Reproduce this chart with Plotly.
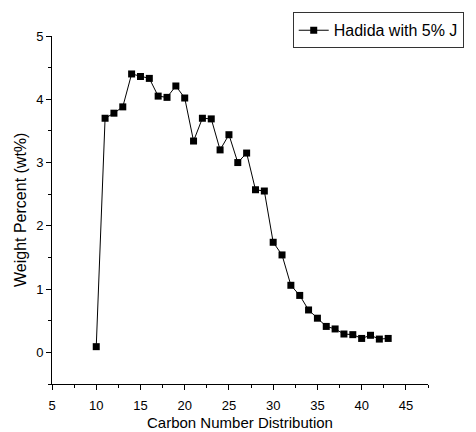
import plotly.graph_objects as go

carbon = list(range(10, 44))
wt = [0.09, 3.70, 3.78, 3.88, 4.40, 4.36, 4.33, 4.05, 4.03, 4.21, 4.02,
      3.34, 3.70, 3.69, 3.20, 3.44, 3.00, 3.15, 2.57, 2.55, 1.74, 1.54,
      1.06, 0.90, 0.67, 0.54, 0.41, 0.37, 0.29, 0.28, 0.22, 0.27, 0.21, 0.22]
series_name = "Hadida with 5% J"
x_title = "Carbon Number Distribution"
y_title = "Weight Percent (wt%)"
x_ticks = [5, 10, 15, 20, 25, 30, 35, 40, 45]
y_ticks = [0, 1, 2, 3, 4, 5]

fig = go.Figure()
fig.add_trace(go.Scatter(
    x=carbon, y=wt, mode="lines+markers", name=series_name,
    line=dict(color="black", width=1),
    marker=dict(symbol="square", size=7, color="black"),
))

axis_common = dict(
    showline=True, linecolor="black", linewidth=1, mirror=False,
    ticks="outside", ticklen=5, tickwidth=1, tickcolor="black",
    showgrid=False, zeroline=False, automargin=False,
    tickfont=dict(family="Arial, Liberation Sans", size=13, color="black"),
)

font = "Arial, Liberation Sans"
fig.update_layout(
    width=476, height=432,
    margin=dict(l=52, r=37, t=30, b=48),
    paper_bgcolor="white", plot_bgcolor="white",
    showlegend=True,
    legend=dict(
        x=1.095, xanchor="right", y=1.068, yanchor="top",
        bordercolor="#333333", borderwidth=1, bgcolor="white",
        font=dict(family=font, size=16, color="black"),
        itemwidth=30, tracegroupgap=0,
    ),
    xaxis=dict(
        range=[5, 47.5], tickvals=x_ticks, ticklabelstandoff=4,
        minor=dict(dtick=2.5, tick0=5, ticks="outside", ticklen=3, tickcolor="black"),
        **axis_common,
    ),
    yaxis=dict(
        range=[-0.5, 5], tickvals=y_ticks,
        minor=dict(dtick=0.5, tick0=0, ticks="outside", ticklen=3, tickcolor="black"),
        **axis_common,
    ),
    annotations=[
        dict(text=x_title, xref="paper", yref="paper", x=0.5, y=0,
             xanchor="center", yanchor="middle", yshift=-38, showarrow=False,
             font=dict(family=font, size=15, color="black")),
        dict(text=y_title, xref="paper", yref="paper", x=0, y=0.5,
             xanchor="center", yanchor="middle", xshift=-32, textangle=-90,
             showarrow=False, font=dict(family=font, size=16, color="black")),
    ],
)

fig.write_html("out.html")
